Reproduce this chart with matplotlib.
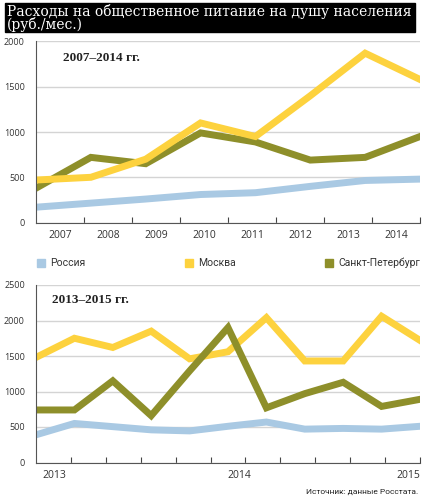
import matplotlib.pyplot as plt
import numpy as np
from matplotlib.patches import Rectangle

# Data: yearly, 2007-2014
years = ["2007", "2008", "2009", "2010", "2011", "2012", "2013", "2014"]
russia_y = [170, 215, 260, 310, 330, 400, 465, 480]
moscow_y = [470, 500, 700, 1100, 950, 1400, 1870, 1580]
spb_y = [380, 720, 650, 990, 890, 690, 720, 950]

# Data: 2013-2015, 11 periods
russia_q = [390, 550, 505, 460, 445, 510, 570, 470, 480, 470, 510]
moscow_q = [1480, 1750, 1620, 1850, 1460, 1560, 2040, 1430, 1430, 2060, 1720]
spb_q = [740, 740, 1150, 660, 1290, 1900, 770, 970, 1130, 790, 890]
q_labels = ["2013", "2014", "2015"]

series_names = ["Россия", "Москва", "Санкт-Петербург"]
colors = ["#a9c9e3", "#fdd23e", "#8e8f2a"]

W, H = 424, 497
fig = plt.figure(figsize=(W / 100, H / 100), dpi=100)

sans = ["Roboto", "DejaVu Sans"]
txt = "#333333"


def px_ax(x0, y_top, x1, y_bot):
    return [x0 / W, 1 - y_bot / H, (x1 - x0) / W, (y_bot - y_top) / H]


def style_axes(ax, ymax, step):
    ax.set_ylim(0, ymax)
    ax.set_yticks(np.arange(0, ymax + 1, step))
    ax.grid(axis="y", color="#d4d4d4", lw=1)
    ax.set_axisbelow(True)
    for s in ["top", "right"]:
        ax.spines[s].set_visible(False)
    ax.spines["left"].set_color("#555555")
    ax.spines["bottom"].set_color("#555555")
    ax.tick_params(axis="y", length=0, pad=8, labelsize=6.5, labelcolor=txt)
    ax.tick_params(axis="x", direction="in", length=4, color="#444444",
                   labelbottom=False)
    for lab in ax.get_yticklabels():
        lab.set_family(["Open Sans", "DejaVu Sans"])


# Title band
fig.patches.append(Rectangle((5 / W, 1 - 32 / H), 410 / W, 29 / H,
                             transform=fig.transFigure, color="black"))
fig.text(7 / W, 1 - 4 / H,
         "Расходы на общественное питание на душу населения\n(руб./мес.)",
         color="white", fontsize=10, family="DejaVu Serif", va="top",
         linespacing=0.82)

# Top chart
ax1 = fig.add_axes(px_ax(36, 41.4, 420, 222.6))
x1 = np.arange(len(years))
n1 = len(years)
ax1.set_xlim(0, n1 - 1)
style_axes(ax1, 2000, 500)
ax1.set_xticks([(k + 1) * (n1 - 1) / n1 for k in range(n1)])
for data, c in zip([russia_y, spb_y, moscow_y], [colors[0], colors[2], colors[1]]):
    ax1.plot(x1, data, color=c, lw=5, solid_joinstyle="miter")
for k, yr in enumerate(years):
    ax1.text((k + 0.5) * (n1 - 1) / n1, -140, yr, ha="center", va="center",
             fontsize=7.5, color=txt, family=["Open Sans", "DejaVu Sans"],
             clip_on=False)
ax1.text(0.07, 0.91, "2007–2014 гг.", transform=ax1.transAxes, fontsize=9.5,
         fontweight="bold", family="Liberation Serif", color="#222222",
         va="center")

# Legend
leg_x = [37, 185, 325]
for name, c, lx in zip(series_names, colors, leg_x):
    fig.patches.append(Rectangle((lx / W, 1 - 267 / H), 8 / W, 8 / H,
                                 transform=fig.transFigure, color=c))
    fig.text((lx + 13) / W, 1 - 263 / H, name, fontsize=7.5, color=txt,
             family=sans, va="center")

# Bottom chart
ax2 = fig.add_axes(px_ax(36, 285, 420, 462.5))
x2 = np.arange(len(russia_q))
n2 = len(russia_q)
ax2.set_xlim(0, n2 - 1)
style_axes(ax2, 2500, 500)
ax2.set_xticks([(k + 1) * (n2 - 1) / n2 for k in range(n2)])
for data, c in zip([russia_q, moscow_q, spb_q], [colors[0], colors[1], colors[2]]):
    ax2.plot(x2, data, color=c, lw=5, solid_joinstyle="miter")
for pos, lab in zip([0.49, 5.30, 9.70], q_labels):
    ax2.text(pos, -180, lab, ha="center", va="center", fontsize=7.5,
             color=txt, family=["Open Sans", "DejaVu Sans"], clip_on=False)
ax2.text(0.042, 0.915, "2013–2015 гг.", transform=ax2.transAxes, fontsize=9.5,
         fontweight="bold", family="Liberation Serif", color="#222222",
         va="center")

fig.text(418 / W, 1 - 492 / H, "Источник: данные Росстата.", ha="right",
         va="center", fontsize=6, color="#222222", family=sans)

fig.savefig("out.png", dpi=100, facecolor="white")
